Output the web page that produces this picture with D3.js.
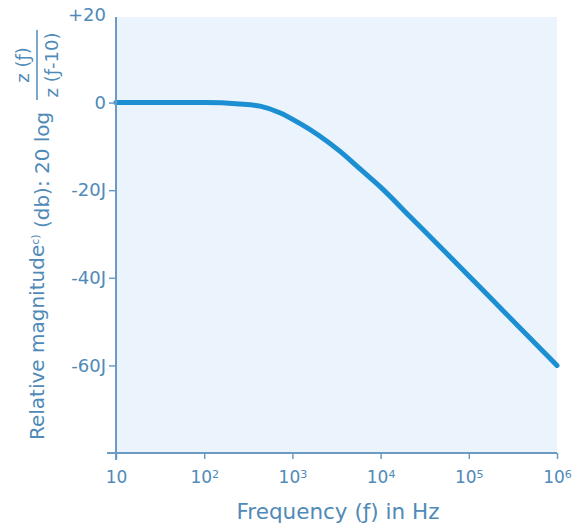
<!DOCTYPE html>
<html>
<head>
<meta charset="utf-8">
<script src="https://cdn.jsdelivr.net/npm/d3@7"></script>
<style>
  body { margin: 0; background: #fff; }
  text { font-family: "DejaVu Sans", sans-serif; }
</style>
</head>
<body>
<svg width="586" height="526"></svg>
<script>
// curve values: frequency (Hz) and level (dB)
const freqs = [10, 100, 250, 430, 720, 1200, 2000, 3500, 5800, 10000, 21500, 60000, 130000, 1000000];
const levels = [0, 0, -0.3, -0.8, -2.3, -4.7, -7.5, -11.2, -15.1, -19.3, -26, -35, -41.9, -60];

const yTicks = [20, 0, -20, -40, -60];
const yTickLabels = ["+20", "0", "-20J", "-40J", "-60J"];
const xTicks = [10, 100, 1000, 10000, 100000, 1000000];
const xTickExp = ["", "2", "3", "4", "5", "6"];

const axisColor = "#6b9bc3";
const textColor = "#4f8ab8";
const lineColor = "#1c8fd2";

const svg = d3.select("svg");
const plotL = 116, plotR = 557, plotT = 15, plotB = 453;

const x = d3.scaleLog().domain([10, 1e6]).range([plotL, plotR]);
const y = d3.scaleLinear().domain([-80, 20]).range([plotB, plotT]);

// plot background
svg.append("rect")
  .attr("x", plotL).attr("y", plotT + 2)
  .attr("width", plotR - plotL).attr("height", plotB - plotT - 2)
  .attr("fill", "#ebf3fc");

// curve
const line = d3.line()
  .x((d, i) => x(freqs[i]))
  .y(d => y(d))
  .curve(d3.curveMonotoneX);

svg.append("path")
  .datum(levels)
  .attr("d", line)
  .attr("fill", "none")
  .attr("stroke", lineColor)
  .attr("stroke-width", 5)
  .attr("stroke-linecap", "round");

// y axis
const yAxis = svg.append("g")
  .attr("transform", `translate(${plotL},0)`)
  .call(d3.axisLeft(y).tickValues(yTicks).tickSize(7).tickPadding(3)
    .tickFormat((d, i) => yTickLabels[i]));
yAxis.select(".domain").attr("d", `M0,${plotT + 2}V${plotB + 7}`);
yAxis.selectAll("line").attr("stroke", axisColor).attr("stroke-width", 1.5);
yAxis.selectAll(".domain").attr("stroke", axisColor).attr("stroke-width", 2);
yAxis.selectAll(".tick").filter(d => d === 20).select("line").remove();
yAxis.selectAll("text")
  .attr("fill", textColor)
  .style("font-size", "18px")
  .style("font-family", "\"DejaVu Sans\", sans-serif");

// x axis
const xAxis = svg.append("g")
  .attr("transform", `translate(0,${plotB})`)
  .call(d3.axisBottom(x).tickValues(xTicks).tickSize(6).tickPadding(6).tickFormat(() => ""));
xAxis.select(".domain").attr("d", `M${plotL - 9},0H${plotR}`);
xAxis.selectAll("line").attr("stroke", axisColor).attr("stroke-width", 1.5);
xAxis.selectAll(".domain").attr("stroke", axisColor).attr("stroke-width", 2);
xAxis.selectAll(".tick text").each(function (d, i) {
  const t = d3.select(this)
    .attr("fill", textColor)
    .attr("dy", "1.05em")
    .style("font-size", "17px")
    .style("font-family", "\"DejaVu Sans\", sans-serif");
  t.append("tspan").text("10");
  if (xTickExp[i]) {
    t.append("tspan").attr("dy", "-0.45em").style("font-size", "11px").text(xTickExp[i]);
  }
});

// x axis title
svg.append("text")
  .attr("x", 338).attr("y", 519)
  .attr("text-anchor", "middle")
  .attr("fill", textColor)
  .style("font-size", "21.5px")
  .text("Frequency (ƒ) in Hz");

// y axis title (rotated)
const yt = svg.append("g").attr("transform", "translate(44,440) rotate(-90)");
const main = yt.append("text")
  .attr("x", 0).attr("y", 0)
  .attr("fill", textColor)
  .style("font-size", "20px");
main.append("tspan").text("Relative magnitude");
main.append("tspan").attr("dy", "-0.5em").style("font-size", "11px").text("c)");
main.append("tspan").attr("dy", "0.5em").text(" (db): 20 log");

// fraction z(f) / z(f-10)
yt.append("text")
  .attr("x", 375).attr("y", -15)
  .attr("text-anchor", "middle")
  .attr("fill", textColor)
  .style("font-size", "18px")
  .text("z (ƒ)");
yt.append("line")
  .attr("x1", 340).attr("x2", 410)
  .attr("y1", -7).attr("y2", -7)
  .attr("stroke", textColor).attr("stroke-width", 1.5);
yt.append("text")
  .attr("x", 375).attr("y", 14)
  .attr("text-anchor", "middle")
  .attr("fill", textColor)
  .style("font-size", "18px")
  .text("z (ƒ-10)");
</script>
</body>
</html>
